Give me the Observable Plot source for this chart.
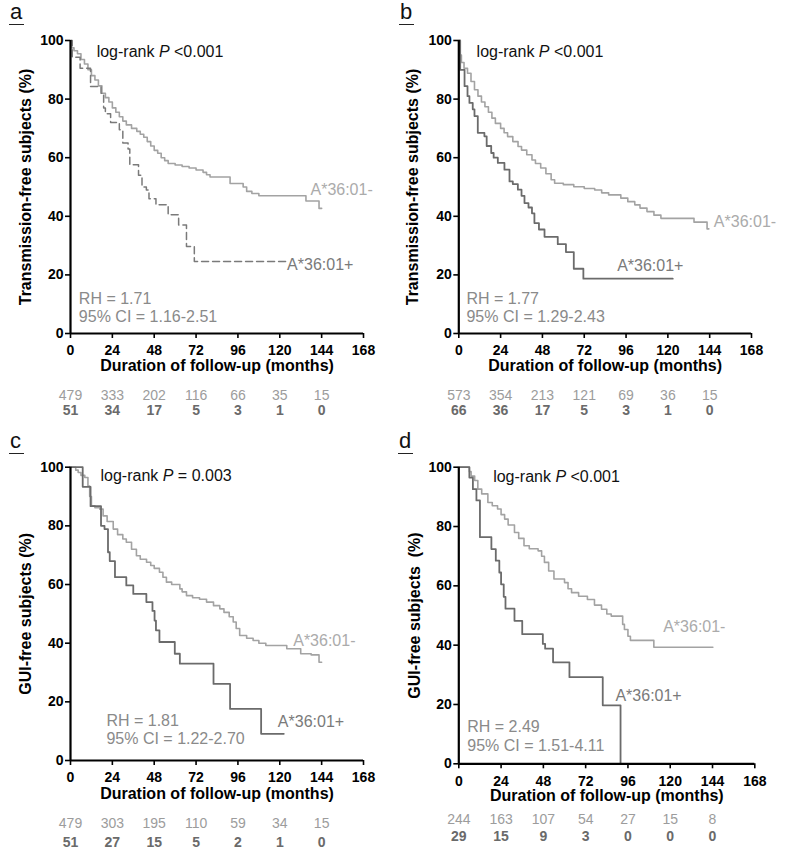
<!DOCTYPE html>
<html>
<head>
<meta charset="utf-8">
<script src="https://cdn.jsdelivr.net/npm/d3@7"></script>
<script src="https://cdn.jsdelivr.net/npm/@observablehq/plot@0.6"></script>
<style>
  body { margin: 0; background: #fff; font-family: "Liberation Sans", Arial, sans-serif; }
  #root { position: relative; width: 800px; height: 868px; overflow: hidden; }
  .panel { position: absolute; }
  .tag { position: absolute; font-size: 22px; line-height: 22px; color: #111; }
  .uline { position: absolute; height: 1.6px; background: #222; }
</style>
</head>
<body>
<div id="root"></div>
<script>
// ---------- data ----------
const xTicks = [0, 24, 48, 72, 96, 120, 144, 168];
const yTicks = [0, 20, 40, 60, 80, 100];
const riskTicks = [0, 24, 48, 72, 96, 120, 144];

// Panel a (Transmission-free) : [months, % free]
const aNeg = [[0,100],[0.6,97.5],[2,96.5],[4,95.5],[6,93.5],[8,92],[10,90],[12,88],[14,86.5],[16,84.5],[18,82],[20,80.5],[22,79],[24,77],[26,75.5],[28,74],[30,72.5],[32,71.2],[35,70],[38,69],[40,68],[42,67],[44,65.5],[46,64],[48,62.5],[50,61.5],[52,60],[54,59],[56,58],[60,57.5],[64,57],[68,56.5],[72,55.8],[76,55],[78,54.2],[80,53.4],[91.5,51.2],[99,50],[101,48.5],[104,47.8],[108,47],[135,45.2],[142.5,42.7],[144,42.7]];
const aPos = [[0,100],[1,94.3],[5.5,90.5],[11.5,84.3],[17.5,82],[19,77],[20,75],[23,72],[28,69.5],[30,65],[33,63],[34,57.6],[39,54],[41,50],[43.5,49],[45,46],[49,43.9],[56,40.5],[62,37],[66.5,29.7],[71,24.6],[124,24.6]];
const aRiskNeg = [479, 333, 202, 116, 66, 35, 15];
const aRiskPos = [51, 34, 17, 5, 3, 1, 0];

// Panel b (Transmission-free)
const bNeg = [[0,100],[0.5,95],[1.5,92.5],[3,90.5],[5,88.8],[7,86],[9,83.2],[11,81],[13,79],[15,77.4],[17,75.5],[19,73.5],[21,71.7],[24,70],[26,68.5],[28,67.2],[31,65.5],[34,63.8],[36,62.6],[39,61],[42,59.2],[44,58],[47,56.5],[50,54.5],[53,52.5],[55,51.3],[60,50.8],[66,50.1],[72,49.5],[78,49],[82,48],[86,47.3],[93,46.2],[97,45],[101,43.9],[104,42.8],[108,41.6],[112,40.4],[116,39.3],[135,38],[142.5,35.7],[143.5,35.7]];
const bPos = [[0,100],[0.8,90],[3.3,84.4],[5,81],[6.1,78.7],[8,76.5],[9,74.2],[10.9,68.5],[14.7,67.3],[16,64],[18.6,61.6],[20,60],[22.4,58.2],[26.2,55.9],[29.1,51.9],[31,51],[33.9,49.1],[36,47],[37.7,44.5],[40,43],[42,41],[43.4,37.7],[46,35.5],[49.2,33],[56.8,30.5],[61.5,27.8],[66,22.1],[71.5,18.7],[122.8,18.7]];
const bRiskNeg = [573, 354, 213, 121, 69, 36, 15];
const bRiskPos = [66, 36, 17, 5, 3, 1, 0];

// Panel c (GUI-free)
const cNeg = [[0,100],[3,99],[4.4,98.2],[6,97.2],[8.2,96.5],[10,93.6],[11,90],[12,86.8],[14,86.2],[16.8,85.7],[18.7,83.4],[21,81.5],[24.5,78.9],[27,77],[30,75.5],[32,74.4],[35,72],[37.8,69.8],[40,68.6],[43.6,67.6],[46,66.5],[48,65.5],[51,64.2],[53,62.5],[55,60.8],[58,60],[62.7,58.5],[64,57.5],[66.5,56.2],[70,55.5],[74,55],[78,54],[82,52.8],[85.6,51.7],[88,50.5],[91,49],[93.3,47.2],[95,45],[97,42.6],[101,41.7],[104.7,40.9],[108,40],[112,39.2],[124,38.1],[132,36.4],[138,36],[142.5,33.5],[144,33.5]];
const cPos = [[0,100],[7,93.3],[11.5,86.7],[17.5,80],[19.5,78.9],[21.5,71],[22.5,68],[25.5,62.5],[32,59.7],[36,56.8],[43.5,54],[47,51],[48.2,47.7],[49,44.4],[51,40.4],[59.8,36.4],[62.7,33],[82,26.1],[91.5,17.6],[109.3,9.1],[122.3,9.1]];
const cRiskNeg = [479, 303, 195, 110, 59, 34, 15];
const cRiskPos = [51, 27, 15, 5, 2, 1, 0];

// Panel d (GUI-free)
const dNeg = [[0,100],[6,98.5],[7,97],[9,95.5],[10.8,92.6],[13,91],[16.5,88.1],[19,87],[22,85.9],[24,84],[26,82.5],[28,80.5],[31.6,78],[34,76],[37,73.5],[40,72.5],[45,71.8],[47,70],[48.6,67.9],[51,65],[54,62.3],[60,61.1],[62,59],[64,57.7],[68,56.5],[73,55.4],[77,53.5],[81,52.1],[84,50.5],[86.5,49.8],[93,47],[94,45.3],[96,43],[97.4,41.6],[110.7,39.3],[144.2,39.3]];
const dPos = [[0,100],[6,96.5],[8,92.6],[10,88.8],[12,76.4],[18.5,72.4],[21,68.5],[23,64.5],[24,60.5],[25.5,56.3],[26.5,52.3],[31.6,48.2],[36,43.7],[47.7,40.4],[49,38.8],[53.5,34.2],[62.8,29.2],[81.7,19.7],[91.8,0]];
const dRiskNeg = [244, 163, 107, 54, 27, 15, 8];
const dRiskPos = [29, 15, 9, 3, 0, 0, 0];

// ---------- drawing ----------
const LIGHT = "#a3a3a3";
const DARK = "#6b6b6b";
const FONT = "'Liberation Sans', Arial, Helvetica, sans-serif";

const panels = [
  {tag: "a", left: 0, top: 0, height: 420, mt: 40, mb: 87, ml: 70, mr: 37, neg: aNeg, pos: aPos, dashed: true,
   rn: aRiskNeg, rp: aRiskPos, yTitle: "Transmission-free subjects (%)", yTitleDx: -44.5, xTitleDy: 37.5, rnDy: 66, rpDy: 81.5,
   p: "<0.001", pAt: [15, 96], rh: "RH = 1.71", ci: "95% CI = 1.16-2.51", rhAt: [4.8, 11.8, 5.6],
   negLab: [137.6, 49], posLab: [124.2, 23.4], tagX: 10, tagBase: 20},
  {tag: "b", left: 400, top: 0, height: 420, mt: 40, mb: 87, ml: 58.3, mr: 49, neg: bNeg, pos: bPos, dashed: false,
   rn: bRiskNeg, rp: bRiskPos, yTitle: "Transmission-free subjects (%)", yTitleDx: -45.8, xTitleDy: 37.5, rnDy: 66, rpDy: 81.5,
   p: "<0.001", pAt: [10.2, 96], rh: "RH = 1.77", ci: "95% CI = 1.29-2.43", rhAt: [4.4, 11.8, 5.6],
   negLab: [146.4, 38], posLab: [90.9, 23.2], tagX: 400, tagBase: 20},
  {tag: "c", left: 0, top: 420, height: 448, mt: 46.7, mb: 108, ml: 70, mr: 37, neg: cNeg, pos: cPos, dashed: false,
   rn: cRiskNeg, rp: cRiskPos, yTitle: "GUI-free subjects (%)", yTitleDx: -44.5, xTitleDy: 38, rnDy: 67.3, rpDy: 86,
   p: "= 0.003", pAt: [17.2, 97.2], rh: "RH = 1.81", ci: "95% CI = 1.22-2.70", rhAt: [20.6, 13.6, 7.4],
   negLab: [127.7, 40.9], posLab: [118.9, 13], tagX: 10, tagBase: 449},
  {tag: "d", left: 400, top: 420, height: 448, mt: 46.7, mb: 104.7, ml: 58.3, mr: 45.7, neg: dNeg, pos: dPos, dashed: false,
   rn: dRiskNeg, rp: dRiskPos, yTitle: "GUI-free subjects\u00a0 (%)", yTitleDx: -44.3, xTitleDy: 37.5, rnDy: 60, rpDy: 77.4,
   p: "<0.001", pAt: [19.5, 96.6], rh: "RH = 2.49", ci: "95% CI = 1.51-4.11", rhAt: [4.8, 12.4, 5.9],
   negLab: [116, 46.1], posLab: [88.9, 23], tagX: 399, tagBase: 449}
];

const root = document.getElementById("root");

for (const c of panels) {
  const chart = Plot.plot({
    width: 400,
    height: c.height,
    marginTop: c.mt, marginBottom: c.mb, marginLeft: c.ml, marginRight: c.mr,
    style: {fontFamily: FONT, background: "transparent", overflow: "visible"},
    x: {domain: [0, 168]},
    y: {domain: [0, 100]},
    marks: [
      Plot.line(c.neg, {x: d => d[0], y: d => d[1], curve: "step-after", stroke: LIGHT, strokeWidth: 1.6}),
      Plot.line(c.pos, {x: d => d[0], y: d => d[1], curve: "step-after", stroke: c.dashed ? "#7a7a7a" : DARK,
        strokeWidth: c.dashed ? 1.5 : 1.8, strokeDasharray: c.dashed ? "7,4" : null}),
      Plot.axisX({ticks: xTicks, tickSize: 5, tickPadding: 7, tickFormat: d => d, fontSize: 14, fontWeight: "bold",
        stroke: "#000", strokeWidth: 1.6, fill: "#000", label: null}),
      Plot.axisY({ticks: yTicks, tickSize: 5, tickPadding: 2, tickFormat: d => d, fontSize: 14, fontWeight: "bold",
        stroke: "#000", strokeWidth: 1.6, fill: "#000", label: null}),
      Plot.ruleY([0], {stroke: "#000", strokeWidth: 2.2}),
      Plot.ruleX([0], {stroke: "#000", strokeWidth: 2.2}),
      Plot.text([c.yTitle], {text: d => d, frameAnchor: "left", textAnchor: "middle", dx: c.yTitleDx, rotate: -90, fontSize: 16, fontWeight: "bold", fill: "#000"}),
      Plot.text(["Duration of follow-up (months)"], {text: d => d, frameAnchor: "bottom", dy: c.xTitleDy, fontSize: 16, fontWeight: "bold", fill: "#000"}),
      Plot.text(c.rn, {x: (d, i) => riskTicks[i], text: d => d, frameAnchor: "bottom", dy: c.rnDy, fontSize: 14, fill: "#9c9c9c"}),
      Plot.text(c.rp, {x: (d, i) => riskTicks[i], text: d => d, frameAnchor: "bottom", dy: c.rpDy, fontSize: 14, fontWeight: "bold", fill: "#6a6a6a"}),
      Plot.text(["log-rank P " + c.p], {x: c.pAt[0], y: c.pAt[1], text: d => d, textAnchor: "start", fontSize: 16, fill: "#111"}),
      Plot.text([c.rh], {x: c.rhAt[0], y: c.rhAt[1], text: d => d, textAnchor: "start", fontSize: 16, fill: "#8a8a8a"}),
      Plot.text([c.ci], {x: c.rhAt[0], y: c.rhAt[2], text: d => d, textAnchor: "start", fontSize: 16, fill: "#8a8a8a"}),
      Plot.text(["A*36:01-"], {x: c.negLab[0], y: c.negLab[1], text: d => d, textAnchor: "start", fontSize: 16, fill: "#ababab"}),
      Plot.text(["A*36:01+"], {x: c.posLab[0], y: c.posLab[1], text: d => d, textAnchor: "start", fontSize: 16, fill: "#7a7a7a"})
    ]
  });
  chart.classList.add("panel");
  chart.style.left = c.left + "px";
  chart.style.top = c.top + "px";
  // italic P in the log-rank annotation
  chart.querySelectorAll("text").forEach(t => {
    if (t.textContent.startsWith("log-rank P ")) {
      const rest = t.textContent.slice("log-rank P".length);
      t.textContent = "";
      const ns = "http://www.w3.org/2000/svg";
      const s1 = document.createElementNS(ns, "tspan"); s1.textContent = "log-rank ";
      const s2 = document.createElementNS(ns, "tspan"); s2.textContent = "P"; s2.setAttribute("font-style", "italic");
      const s3 = document.createElementNS(ns, "tspan"); s3.textContent = rest;
      t.append(s1, s2, s3);
    }
  });
  root.appendChild(chart);

  const tag = document.createElement("div");
  tag.className = "tag";
  tag.textContent = c.tag;
  tag.style.left = c.tagX + "px";
  tag.style.top = (c.tagBase - 19) + "px";
  root.appendChild(tag);
  const ul = document.createElement("div");
  ul.className = "uline";
  ul.style.left = (c.tagX - 1) + "px";
  ul.style.top = (c.tagBase + 3.5) + "px";
  ul.style.width = "15px";
  root.appendChild(ul);
}
</script>
</body>
</html>
